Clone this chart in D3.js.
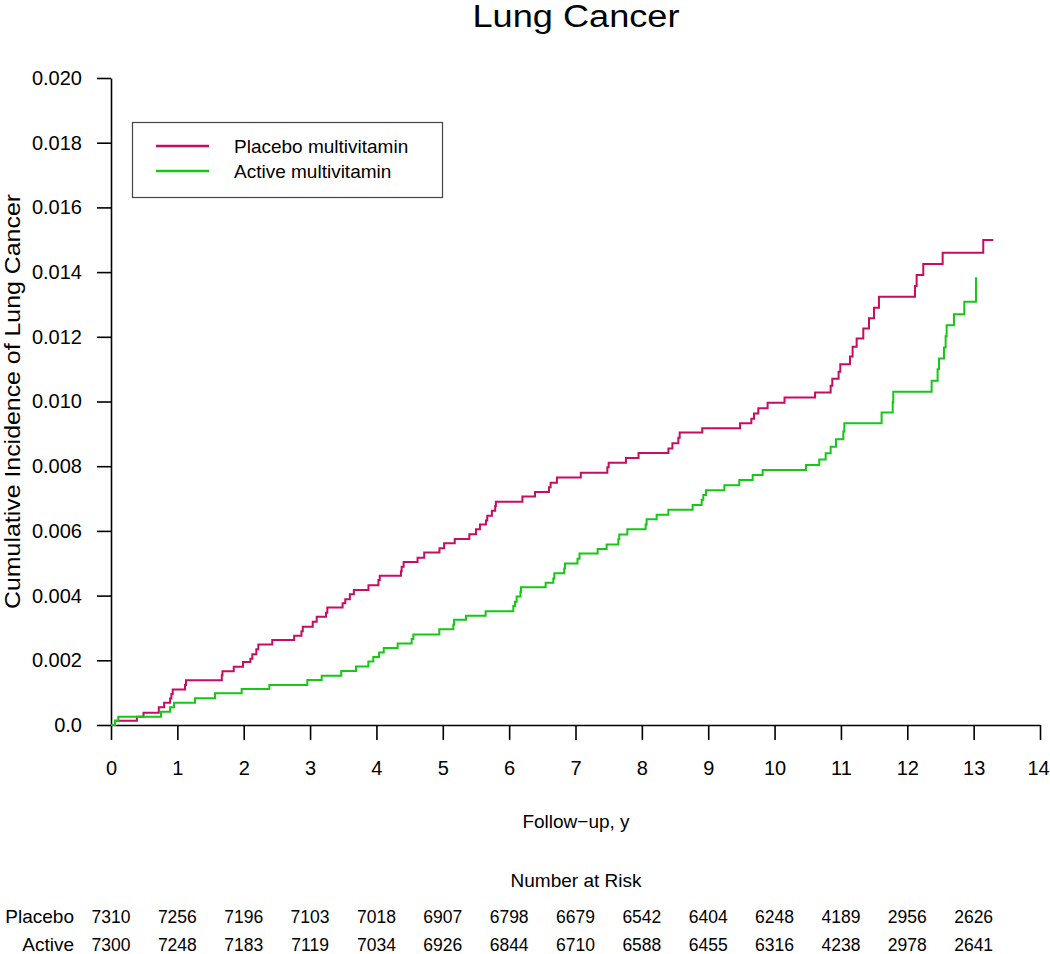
<!DOCTYPE html>
<html>
<head>
<meta charset="utf-8">
<script src="https://cdn.jsdelivr.net/npm/d3@7"></script>
<style>
  html, body { margin: 0; padding: 0; background: #fff; }
  svg { display: block; }
  text { font-family: "Liberation Sans", Arial, Helvetica, sans-serif; fill: #000; }
</style>
</head>
<body>
<div id="chart"></div>
<script>
// ---------- data ----------
const placeboTime = [0, 0.06, 0.39, 0.49, 0.72, 0.80, 0.89, 0.91, 0.93, 1.115, 1.13, 1.67, 1.68, 1.85, 1.99, 2.10, 2.13, 2.19, 2.22, 2.43, 2.76, 2.87, 2.89, 3.04, 3.10, 3.24, 3.26, 3.49, 3.53, 3.60, 3.66, 3.88, 4.03, 4.05, 4.37, 4.38, 4.41, 4.62, 4.72, 4.95, 5.02, 5.18, 5.40, 5.50, 5.56, 5.65, 5.67, 5.74, 5.79, 5.80, 6.20, 6.39, 6.60, 6.625, 6.72, 7.08, 7.48, 7.50, 7.76, 7.95, 8.40, 8.46, 8.55, 8.57, 8.91, 9.48, 9.65, 9.69, 9.755, 9.895, 10.15, 10.61, 10.845, 10.87, 10.965, 10.99, 11.136, 11.176, 11.237, 11.337, 11.423, 11.498, 11.573, 12.116, 12.141, 12.241, 12.533, 13.145, 13.296];
const placeboCI = [0, 0.000134, 0.000258, 0.000381, 0.000546, 0.00069, 0.00082, 0.00096, 0.0011, 0.00124, 0.00138, 0.00154, 0.00166, 0.0018, 0.00195, 0.00205, 0.00219, 0.00234, 0.00249, 0.00263, 0.00276, 0.0029, 0.00304, 0.00319, 0.00335, 0.00347, 0.00363, 0.00376, 0.00389, 0.00404, 0.00417, 0.00432, 0.00448, 0.00461, 0.00475, 0.00489, 0.00504, 0.00517, 0.00533, 0.00546, 0.00562, 0.00575, 0.0059, 0.00605, 0.0062, 0.00632, 0.00647, 0.00662, 0.00677, 0.0069, 0.00706, 0.0072, 0.00735, 0.00749, 0.00765, 0.0078, 0.00797, 0.00811, 0.00825, 0.00841, 0.00855, 0.00871, 0.00888, 0.00904, 0.00917, 0.00933, 0.00947, 0.00963, 0.00979, 0.00996, 0.01012, 0.01028, 0.01049, 0.0107, 0.01092, 0.01115, 0.01139, 0.01169, 0.01195, 0.01226, 0.01257, 0.0129, 0.01324, 0.01357, 0.01391, 0.01425, 0.0146, 0.01499, 0.01499];

const activeTime = [0, 0.06, 0.11, 0.753, 0.889, 0.949, 1.266, 1.567, 1.969, 2.386, 2.959, 3.175, 3.47, 3.692, 3.878, 3.953, 4.04, 4.11, 4.32, 4.531, 4.556, 4.948, 5.159, 5.17, 5.35, 5.646, 6.063, 6.088, 6.113, 6.17, 6.178, 6.55, 6.666, 6.681, 6.83, 6.841, 7.03, 7.06, 7.334, 7.469, 7.645, 7.66, 7.781, 8.057, 8.072, 8.223, 8.399, 8.765, 8.901, 8.926, 8.966, 9.243, 9.469, 9.67, 9.82, 10.473, 10.674, 10.77, 10.845, 10.925, 11.036, 11.051, 11.613, 11.78, 11.789, 12.367, 12.457, 12.477, 12.553, 12.578, 12.593, 12.703, 12.859, 13.035];
const activeCI = [0, 0.000134, 0.000258, 0.000412, 0.000546, 0.00069, 0.000824, 0.00098, 0.00111, 0.00124, 0.00139, 0.00152, 0.00167, 0.00181, 0.00196, 0.0021, 0.00224, 0.00238, 0.00252, 0.00266, 0.0028, 0.00296, 0.0031, 0.00325, 0.00338, 0.00352, 0.00368, 0.00381, 0.00397, 0.00411, 0.00426, 0.0044, 0.00453, 0.00469, 0.00484, 0.00499, 0.00514, 0.0053, 0.00544, 0.00558, 0.00574, 0.00589, 0.00605, 0.0062, 0.00636, 0.0065, 0.00665, 0.0068, 0.00696, 0.00711, 0.00726, 0.00741, 0.00757, 0.00773, 0.00788, 0.00804, 0.00821, 0.0084, 0.0086, 0.00883, 0.00907, 0.00933, 0.00966, 0.00998, 0.0103, 0.01064, 0.011, 0.01133, 0.01167, 0.01202, 0.01236, 0.0127, 0.01308, 0.01384];

const seriesNames = ["Placebo multivitamin", "Active multivitamin"];
const xTicks = [0,1,2,3,4,5,6,7,8,9,10,11,12,13,14];
const yTicks = [0, 0.002, 0.004, 0.006, 0.008, 0.010, 0.012, 0.014, 0.016, 0.018, 0.020];
const yTickLabels = ["0.0","0.002","0.004","0.006","0.008","0.010","0.012","0.014","0.016","0.018","0.020"];

const riskTimes = [0,1,2,3,4,5,6,7,8,9,10,11,12,13];
const riskGroups = ["Placebo", "Active"];
const riskPlacebo = [7310, 7256, 7196, 7103, 7018, 6907, 6798, 6679, 6542, 6404, 6248, 4189, 2956, 2626];
const riskActive  = [7300, 7248, 7183, 7119, 7034, 6926, 6844, 6710, 6588, 6455, 6316, 4238, 2978, 2641];

// ---------- drawing ----------
const W = 1050, H = 954;
const colors = ["#C80C60", "#14C814"];

const svg = d3.select("#chart").append("svg")
  .attr("width", W).attr("height", H);

const x = d3.scaleLinear().domain([0, 14]).range([111, 1040]);
const y = d3.scaleLinear().domain([0, 0.02]).range([725, 78]);

// title
svg.append("text")
  .attr("x", 576).attr("y", 27)
  .attr("text-anchor", "middle")
  .attr("font-size", 31)
  .attr("textLength", 207).attr("lengthAdjust", "spacingAndGlyphs")
  .text("Lung Cancer");

// y axis
const yAxis = svg.append("g")
  .attr("transform", `translate(${x(0)},0)`)
  .call(d3.axisLeft(y).tickValues(yTicks)
    .tickFormat((d, i) => yTickLabels[i])
    .tickSize(14).tickSizeOuter(0).tickPadding(15));
yAxis.attr("font-family", null).attr("font-size", 20);
yAxis.selectAll("path, line").attr("stroke", "#000").attr("stroke-width", 1.6);

// x axis
const xAxis = svg.append("g")
  .attr("transform", `translate(0,${y(0)})`)
  .call(d3.axisBottom(x).tickValues(xTicks)
    .tickFormat(d3.format("d"))
    .tickSize(15).tickSizeOuter(0).tickPadding(21));
xAxis.attr("font-family", null).attr("font-size", 20);
xAxis.selectAll("path, line").attr("stroke", "#000").attr("stroke-width", 1.6);
xAxis.selectAll(".tick text").filter(d => d === 14).attr("dx", -2);

// axis titles
svg.append("text")
  .attr("x", 576).attr("y", 828)
  .attr("text-anchor", "middle")
  .attr("font-size", 19)
  .text("Follow\u2212up, y");

svg.append("text")
  .attr("transform", `translate(20,${(y(0) + y(0.02)) / 2}) rotate(-90)`)
  .attr("text-anchor", "middle")
  .attr("font-size", 21.5)
  .attr("textLength", 415).attr("lengthAdjust", "spacingAndGlyphs")
  .text("Cumulative Incidence of Lung Cancer");

// curves
const line = d3.line()
  .x(d => x(d[0])).y(d => y(d[1]))
  .curve(d3.curveStepAfter);

const curves = [
  d3.zip(placeboTime, placeboCI),
  d3.zip(activeTime, activeCI)
];

svg.append("g").selectAll("path")
  .data(curves)
  .join("path")
  .attr("fill", "none")
  .attr("stroke", (d, i) => colors[i])
  .attr("stroke-width", 2)
  .attr("d", line);

// legend
const lg = svg.append("g");
lg.append("rect")
  .attr("x", 132.5).attr("y", 122.5)
  .attr("width", 310).attr("height", 75)
  .attr("fill", "#fff").attr("stroke", "#444").attr("stroke-width", 1.2);
seriesNames.forEach((name, i) => {
  const ly = 146 + i * 25;
  lg.append("line")
    .attr("x1", 156).attr("x2", 209)
    .attr("y1", ly).attr("y2", ly)
    .attr("stroke", colors[i]).attr("stroke-width", 2.5);
  lg.append("text")
    .attr("x", 234).attr("y", ly + 7)
    .attr("font-size", 19)
    .text(name);
});

// number at risk table
svg.append("text")
  .attr("x", 576).attr("y", 887)
  .attr("text-anchor", "middle")
  .attr("font-size", 19)
  .text("Number at Risk");

const riskRows = [riskPlacebo, riskActive];
riskRows.forEach((row, r) => {
  const by = 923 + r * 28;
  svg.append("text")
    .attr("x", 74).attr("y", by)
    .attr("text-anchor", "end")
    .attr("font-size", 19)
    .text(riskGroups[r]);
  svg.append("g").selectAll("text")
    .data(row)
    .join("text")
    .attr("x", (d, i) => x(riskTimes[i]))
    .attr("y", by)
    .attr("text-anchor", "middle")
    .attr("font-size", 17.5)
    .text(d => d);
});
</script>
</body>
</html>
